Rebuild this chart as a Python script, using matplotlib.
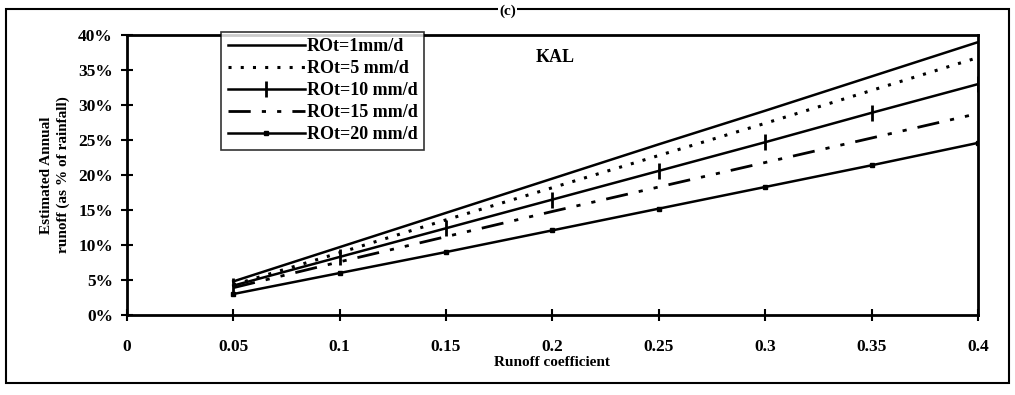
import matplotlib
matplotlib.use("Agg")
import matplotlib.pyplot as plt
from matplotlib.patches import Rectangle
from matplotlib.ticker import FuncFormatter

plt.rcParams['font.family'] = ['Liberation Serif', 'DejaVu Serif']
plt.rcParams['font.weight'] = 'bold'

runoff_coef = [0.05, 0.10, 0.15, 0.20, 0.25, 0.30, 0.35, 0.40]
rot_1 = [4.8, 9.7, 14.6, 19.5, 24.4, 29.2, 34.1, 39.0]
rot_5 = [4.3, 8.9, 13.6, 18.2, 22.8, 27.4, 32.1, 36.8]
rot_10 = [4.2, 8.3, 12.4, 16.5, 20.6, 24.7, 28.9, 33.0]
rot_15 = [3.9, 7.6, 11.2, 14.8, 18.3, 21.8, 25.3, 28.8]
rot_20 = [3.0, 6.0, 9.0, 12.1, 15.2, 18.3, 21.4, 24.6]
labels = ['ROt=1mm/d', 'ROt=5 mm/d', 'ROt=10 mm/d', 'ROt=15 mm/d', 'ROt=20 mm/d']
x_ticks = [0, 0.05, 0.1, 0.15, 0.2, 0.25, 0.3, 0.35, 0.4]
x_ticklabels = ['0', '0.05', '0.1', '0.15', '0.2', '0.25', '0.3', '0.35', '0.4']
y_ticks = [0, 5, 10, 15, 20, 25, 30, 35, 40]

fig = plt.figure(figsize=(10.15, 3.95), dpi=100)
ax = fig.add_axes([0.125, 0.2025, 0.8385, 0.7085])

ax.plot(runoff_coef, rot_1, color='black', lw=1.8, ls='-', label=labels[0])
ax.plot(runoff_coef, rot_5, color='black', lw=2.2, ls=(0, (1, 3)), label=labels[1])
ax.plot(runoff_coef, rot_10, color='black', lw=1.8, ls='-', marker='|', ms=12, mew=2, label=labels[2])
ax.plot(runoff_coef, rot_15, color='black', lw=2, ls=(0, (8, 4, 1.5, 4, 1.5, 4)), label=labels[3])
ax.plot(runoff_coef, rot_20, color='black', lw=1.8, ls='-', marker='s', ms=3.5, label=labels[4])

ax.set_xlim(0, 0.4)
ax.set_ylim(0, 40)
ax.set_xticks(x_ticks)
ax.set_xticklabels(x_ticklabels)
ax.set_yticks(y_ticks)
ax.yaxis.set_major_formatter(FuncFormatter(lambda v, p: f"{int(v)}%"))
ax.tick_params(axis='both', direction='inout', length=8, width=1.5, labelsize=12.5)
ax.tick_params(axis='x', pad=13)
ax.tick_params(axis='y', pad=6)
for s in ax.spines.values():
    s.set_linewidth(2)
for lab in ax.get_xticklabels() + ax.get_yticklabels():
    lab.set_fontweight('bold')

ax.set_xlabel('Runoff coefficient', fontsize=11, fontweight='bold', labelpad=1)
ax.set_ylabel('Estimated Annual\nrunoff (as % of rainfall)', fontsize=11,
              fontweight='bold', labelpad=6, linespacing=1.3)

ax.text(0.503, 0.92, 'KAL', transform=ax.transAxes, fontsize=13,
        fontweight='bold', ha='center', va='center')

leg = ax.legend(loc='upper left', bbox_to_anchor=(0.111, 1.012), frameon=True,
                fancybox=False, edgecolor='black', fontsize=13, handlelength=4.3,
                handletextpad=0.1, labelspacing=0.28, borderpad=0.35, borderaxespad=0)
leg.get_frame().set_linewidth(1.2)
for t in leg.get_texts():
    t.set_fontweight('bold')

fig.patches.append(Rectangle((0.006, 0.03), 0.988, 0.947, transform=fig.transFigure,
                             fill=False, edgecolor='black', lw=1.5))
fig.text(0.5, 0.972, '(c)', fontsize=11, fontweight='bold', ha='center', va='center',
         bbox=dict(facecolor='white', edgecolor='none', pad=1))

fig.savefig('out.png', dpi=100)
